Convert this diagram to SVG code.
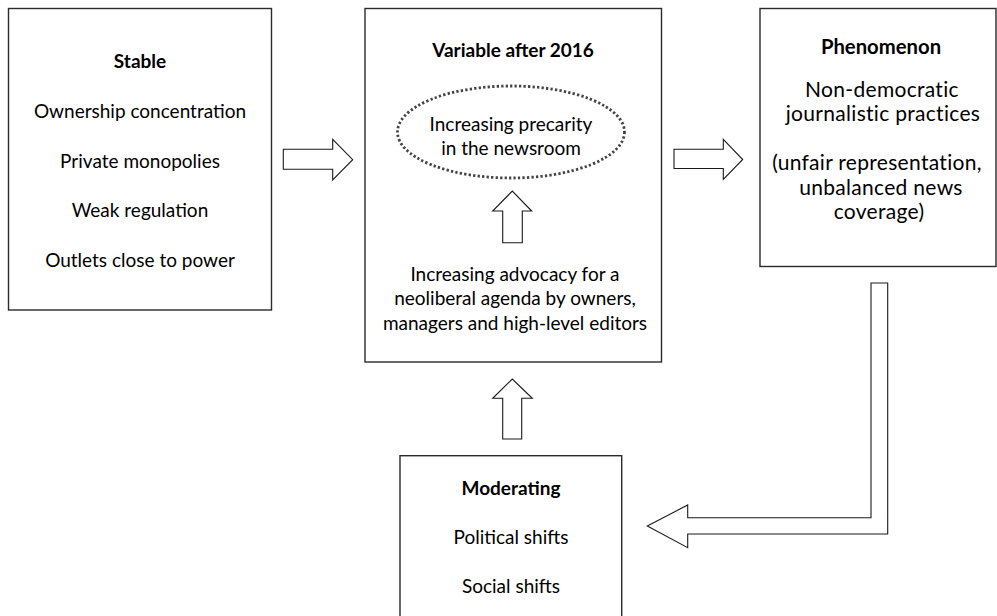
<svg xmlns="http://www.w3.org/2000/svg" width="997" height="616" viewBox="0 0 997 616">
<style>
.box{fill:#fff;stroke:#2a2a2a;stroke-width:1.4}
.arrow{fill:#fff;stroke:#1a1a1a;stroke-width:1.1;stroke-linejoin:miter}
text{font-family:Lato,"Liberation Sans",sans-serif;font-size:19px;fill:#000;text-anchor:middle}
.t{font-weight:bold}
.p{font-size:21px;letter-spacing:0.3px}
.pt{font-size:20.3px}
.dot{fill:none;stroke:#444;stroke-width:2.8;stroke-dasharray:2.3 2.2}
</style>
<rect width="997" height="616" fill="#fff"/>
<g id="stable">
<rect class="box" x="8.5" y="8.5" width="263" height="301.5"/>
<text class="t" x="140" y="68">Stable</text>
<text x="140" y="118">Ownership concentration</text>
<text x="140" y="167.5">Private monopolies</text>
<text x="140" y="217">Weak regulation</text>
<text x="140" y="266.5">Outlets close to power</text>
</g>
<g id="variable">
<rect class="box" x="365" y="8.5" width="296.5" height="353.5"/>
<text class="t" x="513" y="56.5">Variable after 2016</text>
<text x="515" y="280.5">Increasing advocacy for a</text>
<text x="515" y="305">neoliberal agenda by owners,</text>
<text x="515" y="329.5">managers and high-level editors</text>
</g>
<g id="precarity">
<ellipse class="dot" cx="511" cy="132" rx="113.5" ry="46"/>
<text x="511" y="131">Increasing precarity</text>
<text x="511" y="155">in the newsroom</text>
</g>
<g id="phenomenon">
<rect class="box" x="760" y="8.5" width="236" height="258"/>
<text class="t pt" x="881" y="53.5">Phenomenon</text>
<text class="p" x="882" y="96.5">Non-democratic</text>
<text class="p" x="883" y="121">journalistic practices</text>
<text class="p" x="877" y="170">(unfair representation,</text>
<text class="p" x="881" y="194.5">unbalanced news</text>
<text class="p" x="879" y="219">coverage)</text>
</g>
<g id="moderating">
<rect class="box" x="400" y="455.7" width="221.7" height="200"/>
<text class="t" x="511" y="495">Moderating</text>
<text x="511" y="544">Political shifts</text>
<text x="511" y="593">Social shifts</text>
</g>
<g id="connectors">
<polygon class="arrow" points="283.3,149.3 332.7,149.3 332.7,139.3 352.7,159.7 332.7,180 332.7,169.3 283.3,169.3"/>
<polygon class="arrow" points="674,149.3 723.3,149.3 723.3,139.3 742.7,159.5 723.3,179.3 723.3,168.5 674,168.5"/>
<polygon class="arrow" points="502.7,242.7 502.7,211 492.7,211 512.3,191 531.7,211 522.3,211 522.3,242.7"/>
<polygon class="arrow" points="502.7,439 502.7,398.3 492.7,398.3 512.3,379 532.3,398.3 521.7,398.3 521.7,439"/>
<polygon class="arrow" points="871,283 887.7,283 887.7,534 687.7,534 687.7,547.7 647.3,526 687.7,505 687.7,517.7 871,517.7"/>
</g>
</svg>
